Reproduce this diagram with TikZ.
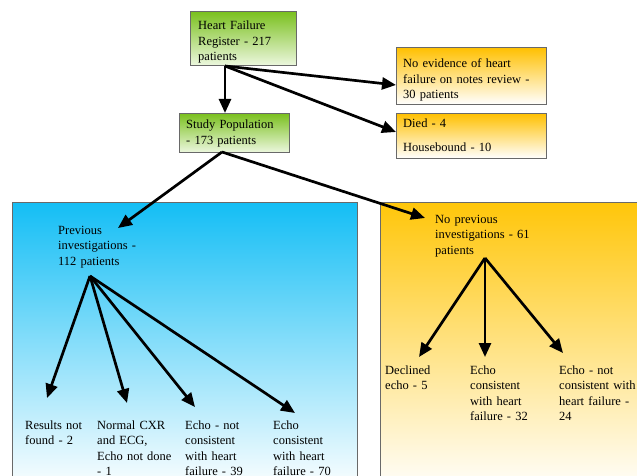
\documentclass[tikz,border=0pt]{standalone}
\usepackage{fontspec}
\setmainfont{Liberation Serif}
\usetikzlibrary{arrows.meta,calc}
\definecolor{greenA}{RGB}{122,192,30}
\definecolor{greenB}{RGB}{236,247,222}
\definecolor{orangeA}{RGB}{255,192,0}
\definecolor{panelBlue}{RGB}{20,190,245}
\definecolor{panelOrange}{RGB}{255,198,10}
\definecolor{edge}{RGB}{105,105,105}
\begin{document}
\begin{tikzpicture}[x=1pt,y=-1pt,
  lbl/.style={anchor=base west, align=left, text width=160pt, inner sep=0pt,
              font=\fontsize{12.5}{15.6}\selectfont},
  arr/.style={line width=2.7pt, -{Triangle[length=14pt,width=12pt]}},
  boxbase/.style={draw=edge, line width=0.7pt, anchor=north west, inner sep=0pt},
  greenbox/.style={boxbase, top color=greenA, bottom color=greenB},
  orangebox/.style={boxbase, top color=orangeA, bottom color=white},
  bluepanel/.style={boxbase, top color=panelBlue, bottom color=white},
  orangepanel/.style={boxbase, top color=panelOrange, bottom color=white}]
\useasboundingbox (0,0) rectangle (637,476);
\fill[white] (0,0) rectangle (637,476);

% panels
\node[bluepanel, minimum width=345pt, minimum height=290pt] (bp) at (12,202) {};
\node[orangepanel, minimum width=270pt, minimum height=290pt] (op) at (380,202) {};

% top boxes
\node[greenbox, minimum width=106pt, minimum height=54pt] (hf) at (190,11) {};
\node[lbl] (hft) at (198,29.5) {Heart Failure\\Register - 217\\patients};

\node[greenbox, minimum width=110pt, minimum height=39pt] (sp) at (179,113) {};
\node[lbl] (spt) at (186,129) {Study Population\\- 173 patients};

\node[orangebox, minimum width=150pt, minimum height=57pt] (ne) at (396,47) {};
\node[lbl] (net) at (403,67.5) {No evidence of heart\\failure on notes review -\\30 patients};

\node[orangebox, minimum width=150pt, minimum height=45pt] (dh) at (396,113) {};
\node[lbl] (dht1) at (403,128) {Died - 4};
\node[lbl] (dht2) at (403,152) {Housebound - 10};

% second level
\node[lbl] (pi) at (58,234) {Previous\\investigations -\\112 patients};
\node[lbl] (np) at (435,223) {No previous\\investigations - 61\\patients};

% leaves (left)
\node[lbl] (l1) at (25,429) {Results not\\found - 2};
\node[lbl] (l2) at (97,429) {Normal CXR\\and ECG,\\Echo not done\\- 1};
\node[lbl] (l3) at (185,429) {Echo - not\\consistent\\with heart\\failure - 39};
\node[lbl] (l4) at (273,429) {Echo\\consistent\\with heart\\failure - 70};

% leaves (right)
\node[lbl] (r1) at (385,374) {Declined\\echo - 5};
\node[lbl] (r2) at (470,374) {Echo\\consistent\\with heart\\failure - 32};
\node[lbl] (r3) at (559,374) {Echo - not\\consistent with\\heart failure -\\24};

% connector points
\coordinate (hfo) at (225,66);
\coordinate (spi) at (225,113);
\coordinate (nei) at (396,85);
\coordinate (dhi) at (396,132);
\coordinate (spo) at (222,152);
\coordinate (pii) at (118,228);
\coordinate (npi) at (425,218);
\coordinate (pio) at (90,276);
\coordinate (l1i) at (47,398);
\coordinate (l2i) at (127,403);
\coordinate (l3i) at (195,407);
\coordinate (l4i) at (295,413);
\coordinate (npo) at (485,258);
\coordinate (r1i) at (419,357);
\coordinate (r2i) at (485,357);
\coordinate (r3i) at (563,353);

\draw[arr] (hfo) -- (spi);
\draw[arr] (hfo) -- (nei);
\draw[arr] (hfo) -- (dhi);
\draw[arr] (spo) -- (pii);
\draw[arr] (spo) -- (npi);
\draw[arr] (pio) -- (l1i);
\draw[arr] (pio) -- (l2i);
\draw[arr] (pio) -- (l3i);
\draw[arr] (pio) -- (l4i);
\draw[arr] (npo) -- (r1i);
\draw[arr] (npo) -- (r2i);
\draw[arr] (npo) -- (r3i);
\end{tikzpicture}
\end{document}
